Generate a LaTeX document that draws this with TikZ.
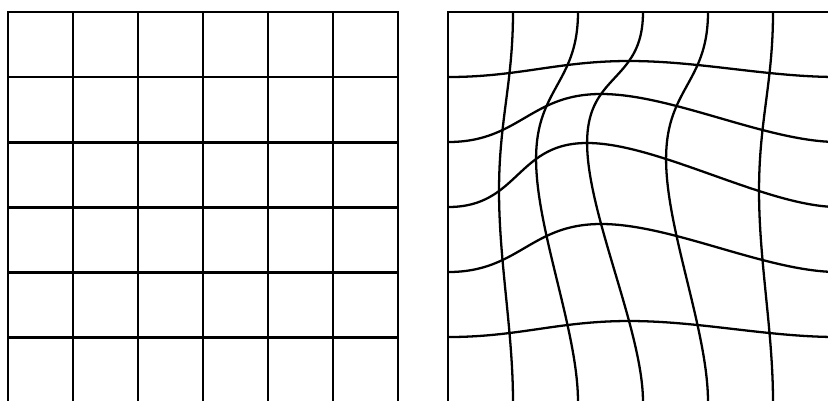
\documentclass[tikz,border=0pt]{standalone}
\usetikzlibrary{calc}

\begin{document}
\begin{tikzpicture}[declare function={bump(\a,\b)=sin(30*\a)*sin(30*\b)*sin(30*\a)*sin(30*\b);}]
\def\ox{6.892}
\def\oy{-0.031}
\def\ax{-0.86}
\def\ay{0.985}
\tikzset{flat/.style={line width=1.3pt,line cap=rect},
         warp/.style={line width=1pt}}
\useasboundingbox (0,0) rectangle (12.738,6.154);
\clip (0,0) rectangle (12.738,6.154);

% regular grid
\foreach \i in {0,...,6} {
  \draw[flat] (0.123+\i,\oy) -- (0.123+\i,\oy+6);
  \draw[flat] (0.123,\oy+\i) -- (6.123,\oy+\i);
}

% warped grid
\draw[warp] (\ox,\oy) rectangle (\ox+6,\oy+6);
\foreach \i in {1,...,5} {
  \draw[warp] plot[variable=\t,domain=0:6,samples=61,smooth]
    ({\ox+\i+\ax*bump(\i,\t)}, {\oy+\t+\ay*bump(\i,\t)});
  \draw[warp] plot[variable=\t,domain=0:6,samples=61,smooth]
    ({\ox+\t+\ax*bump(\t,\i)}, {\oy+\i+\ay*bump(\t,\i)});
}
\end{tikzpicture}
\end{document}
